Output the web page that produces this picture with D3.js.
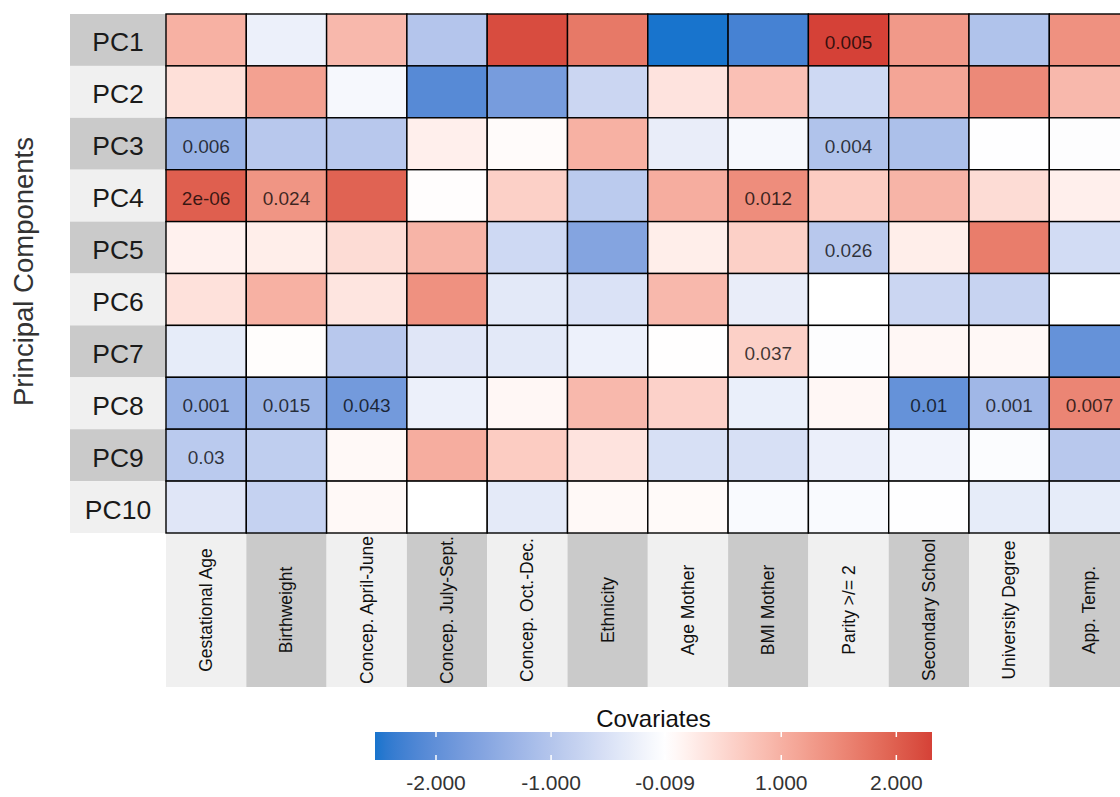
<!DOCTYPE html>
<html>
<head>
<meta charset="utf-8">
<script src="https://cdn.jsdelivr.net/npm/d3@7/dist/d3.min.js"></script>
<style>
  html, body { margin: 0; padding: 0; background: #ffffff; }
  svg { display: block; font-family: "Liberation Sans", Arial, Helvetica, sans-serif; }
</style>
</head>
<body>
<svg id="chart" width="1120" height="797"></svg>
<script>
// Principal components (rows) and covariates (columns)
const components = ["PC1", "PC2", "PC3", "PC4", "PC5", "PC6", "PC7", "PC8", "PC9", "PC10"];
const covariates = ["Gestational Age", "Birthweight", "Concep. April-June", "Concep. July-Sept.",
  "Concep. Oct.-Dec.", "Ethnicity", "Age Mother", "BMI Mother", "Parity >/= 2",
  "Secondary School", "University Degree", "App. Temp."];

// Covariate loadings, one array per component (same order as covariates)
const pc1  = [ 1.00, -0.25,  0.90, -1.00,  2.20,  1.70, -2.53, -2.25,  2.31,  1.30, -1.05,  1.40];
const pc2  = [ 0.40,  1.20, -0.12, -2.10, -1.75, -0.70,  0.35,  0.80, -0.65,  1.15,  1.50,  0.90];
const pc3  = [-1.35, -0.95, -0.95,  0.20,  0.05,  1.00, -0.30, -0.12, -1.05, -1.10, -0.01, -0.03];
const pc4  = [ 2.00,  1.35,  1.95,  0.02,  0.60, -0.90,  1.05,  1.45,  0.65,  0.95,  0.45,  0.20];
const pc5  = [ 0.18,  0.22,  0.45,  0.95, -0.65, -1.60,  0.22,  0.60, -0.95,  0.22,  1.65, -0.60];
const pc6  = [ 0.38,  1.00,  0.33,  1.40, -0.38, -0.50,  0.90, -0.30,  0.00, -0.70, -0.75,  0.00];
const pc7  = [-0.33,  0.03, -0.95, -0.42, -0.38, -0.24,  0.01,  0.60, -0.03,  0.10,  0.09, -1.95];
const pc8  = [-1.35, -1.30, -1.80, -0.26,  0.10,  0.90,  0.58, -0.28,  0.10, -1.95, -1.25,  1.55];
const pc9  = [-0.92, -0.85,  0.08,  1.05,  0.65,  0.35, -0.53, -0.53, -0.27, -0.18, -0.05, -0.95];
const pc10 = [-0.42, -0.77,  0.08,  0.00, -0.36,  0.08,  0.06, -0.08, -0.08, -0.01, -0.33, -0.33];
const loadings = [pc1, pc2, pc3, pc4, pc5, pc6, pc7, pc8, pc9, pc10];

// Significant p-values printed inside cells ("" = not shown)
const pLabels = [
  ["", "", "", "", "", "", "", "", "0.005", "", "", ""],
  ["", "", "", "", "", "", "", "", "", "", "", ""],
  ["0.006", "", "", "", "", "", "", "", "0.004", "", "", ""],
  ["2e-06", "0.024", "", "", "", "", "", "0.012", "", "", "", ""],
  ["", "", "", "", "", "", "", "", "0.026", "", "", ""],
  ["", "", "", "", "", "", "", "", "", "", "", ""],
  ["", "", "", "", "", "", "", "0.037", "", "", "", ""],
  ["0.001", "0.015", "0.043", "", "", "", "", "", "", "0.01", "0.001", "0.007"],
  ["0.03", "", "", "", "", "", "", "", "", "", "", ""],
  ["", "", "", "", "", "", "", "", "", "", "", ""]
];

// Colour bar breaks and their labels
const legendBreaks = [-2, -1, -0.009, 1, 2];
const legendTickLabels = ["-2.000", "-1.000", "-0.009", "1.000", "2.000"];

const svg = d3.select("#chart");
svg.append("rect").attr("width", 1120).attr("height", 797).attr("fill", "#ffffff");

const gridLeft = 166, colW = 80.3, gridTop = 14, gridBottom = 533;
const x = d3.scaleBand().domain(covariates).range([gridLeft, gridLeft + colW * covariates.length]);
const y = d3.scaleBand().domain(components).range([gridTop, gridBottom]);

const cells = [];
components.forEach((pc, i) => covariates.forEach((cv, j) => {
  cells.push({ pc, cv, v: loadings[i][j], label: pLabels[i][j] });
}));

const allVals = cells.map(d => d.v);
const vMin = d3.min(allVals), vMax = d3.max(allVals);
const vAbs = d3.max(allVals, v => Math.abs(v));
const color = d3.scaleLinear()
  .domain([-vAbs, 0, vAbs])
  .range(["#1874CD", "#ffffff", "#CD2626"])
  .interpolate(d3.interpolateLab);

// Row strips (component names)
const stripL = 70;
const rowStrips = svg.append("g");
rowStrips.selectAll("rect").data(components).join("rect")
  .attr("x", stripL).attr("y", d => y(d))
  .attr("width", gridLeft - stripL).attr("height", y.bandwidth())
  .attr("fill", (d, i) => i % 2 === 0 ? "#cacaca" : "#f0f0f0");
rowStrips.selectAll("text").data(components).join("text")
  .attr("x", (stripL + gridLeft) / 2).attr("y", d => y(d) + y.bandwidth() / 2 + 11.5)
  .attr("text-anchor", "middle").attr("font-size", 26.5).attr("fill", "#1a1a1a")
  .text(d => d);

// Column strips (covariate names)
const stripBottom = 687;
const colStrips = svg.append("g");
colStrips.selectAll("rect").data(covariates).join("rect")
  .attr("x", d => x(d)).attr("y", gridBottom)
  .attr("width", x.bandwidth()).attr("height", stripBottom - gridBottom)
  .attr("fill", (d, i) => i % 2 === 0 ? "#f0f0f0" : "#cacaca");
colStrips.selectAll("text").data(covariates).join("text")
  .attr("transform", d => `translate(${x(d) + x.bandwidth() / 2 + 6},${(gridBottom + stripBottom) / 2}) rotate(-90)`)
  .attr("text-anchor", "middle").attr("font-size", 17.5).attr("fill", "#111")
  .text(d => d);

// Heatmap cells
const cellG = svg.append("g");
cellG.selectAll("rect").data(cells).join("rect")
  .attr("x", d => x(d.cv)).attr("y", d => y(d.pc))
  .attr("width", x.bandwidth()).attr("height", y.bandwidth())
  .attr("fill", d => color(d.v))
  .attr("stroke", "#000").attr("stroke-width", 1.4);
cellG.selectAll("text").data(cells.filter(d => d.label)).join("text")
  .attr("x", d => x(d.cv) + x.bandwidth() / 2)
  .attr("y", d => y(d.pc) + y.bandwidth() / 2 + 9)
  .attr("text-anchor", "middle").attr("font-size", 19)
  .attr("fill", "#000").attr("fill-opacity", 0.75)
  .text(d => d.label);

// Y axis title
svg.append("text")
  .attr("transform", `translate(33,${(gridTop + gridBottom) / 2 - 2}) rotate(-90)`)
  .attr("text-anchor", "middle").attr("font-size", 27.5).attr("fill", "#333")
  .text("Principal Components");

// Colour bar legend
const barX0 = 375, barX1 = 932, barY = 732, barH = 28;
const lx = d3.scaleLinear().domain([vMin, vMax]).range([barX0, barX1]);
const grad = svg.append("defs").append("linearGradient").attr("id", "covGrad")
  .attr("x1", "0%").attr("x2", "100%").attr("y1", "0%").attr("y2", "0%");
d3.range(0, 1.0001, 0.02).forEach(t => {
  grad.append("stop").attr("offset", `${t * 100}%`).attr("stop-color", color(vMin + t * (vMax - vMin)));
});
svg.append("rect").attr("x", barX0).attr("y", barY)
  .attr("width", barX1 - barX0).attr("height", barH).attr("fill", "url(#covGrad)");

const tickG = svg.append("g");
legendBreaks.forEach((b, i) => {
  const tx = lx(b);
  tickG.append("line").attr("x1", tx).attr("x2", tx).attr("y1", barY).attr("y2", barY + 5)
    .attr("stroke", "#fff").attr("stroke-width", 1.5);
  tickG.append("line").attr("x1", tx).attr("x2", tx).attr("y1", barY + barH - 5).attr("y2", barY + barH)
    .attr("stroke", "#fff").attr("stroke-width", 1.5);
  tickG.append("text").attr("x", tx).attr("y", 790)
    .attr("text-anchor", "middle").attr("font-size", 21).attr("fill", "#333")
    .text(legendTickLabels[i]);
});

svg.append("text").attr("x", (barX0 + barX1) / 2).attr("y", 727)
  .attr("text-anchor", "middle").attr("font-size", 24).attr("fill", "#111")
  .text("Covariates");
</script>
</body>
</html>
